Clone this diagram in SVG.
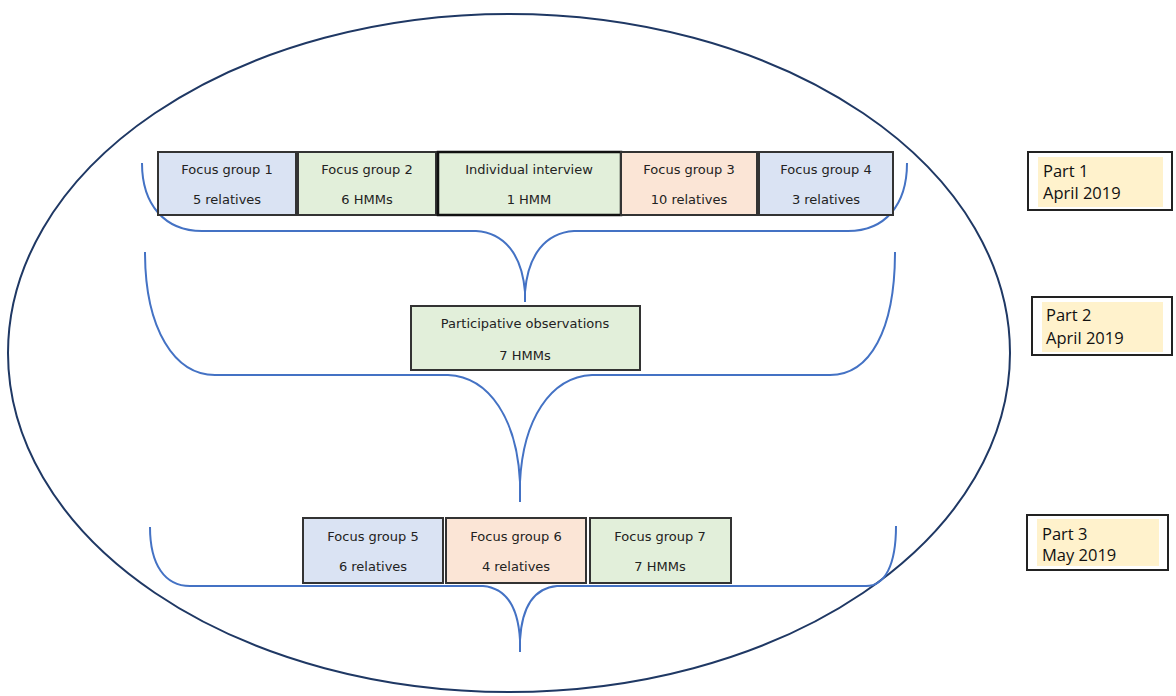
<svg xmlns="http://www.w3.org/2000/svg" width="1176" height="696" viewBox="0 0 1176 696">
<style>
.bx{stroke:#333;stroke-width:2}
.blue{fill:#dae3f3}.green{fill:#e2efda}.peach{fill:#fbe5d6}
.t{font-family:"DejaVu Sans",Verdana,sans-serif;font-size:13px;fill:#222;text-anchor:middle}
.brace{fill:none;stroke:#4472c4;stroke-width:2}
.pb{fill:#fff;stroke:#222;stroke-width:2}
.pf{fill:#fff2cc}
.pt{font-family:"Open Sans","Liberation Sans",sans-serif;font-size:16.5px;fill:#111}
</style>
<rect width="1176" height="696" fill="#fff"/>
<ellipse id="outer" cx="509" cy="353" rx="501" ry="339" fill="none" stroke="#1f3864" stroke-width="2"/>
<g id="connectors">
<path class="brace" d="M142,163 C142,205 165,231 202,231 L476,231 C505,233 522,255 525,292 C528,255 545,233 574,231 L848,231 C885,231 907,205 907,163"/>
<path class="brace" d="M525,288 L525,302"/>
<path class="brace" d="M145,252 C145,330 175,375 215,375 L448,375 C490,377 517,420 520,482 C523,420 550,377 592,375 L830,375 C870,375 895,330 895,252"/>
<path class="brace" d="M520,478 L520,502"/>
<path class="brace" d="M150,527 C150,565 165,586 190,586 L483,586 C505,588 518,605 520,640 C522,605 535,588 557,586 L866,586 C885,586 896,565 896,526"/>
<path class="brace" d="M520,635 L520,652"/>
</g>
<g id="fg1"><rect class="bx blue" x="158" y="152" width="138" height="63"/><text class="t" x="227" y="174">Focus group 1</text><text class="t" x="227" y="204">5 relatives</text></g>
<g id="fg2"><rect class="bx green" x="298" y="152" width="138" height="63"/><text class="t" x="367" y="174">Focus group 2</text><text class="t" x="367" y="204">6 HMMs</text></g>
<g id="ii"><rect class="bx green" x="438" y="152" width="183" height="63" style="stroke:#111;stroke-width:2.5"/><text class="t" x="529" y="174">Individual interview</text><text class="t" x="529" y="204">1 HMM</text></g>
<g id="fg3"><rect class="bx peach" x="621" y="152" width="136" height="63"/><text class="t" x="689" y="174">Focus group 3</text><text class="t" x="689" y="204">10 relatives</text></g>
<g id="fg4"><rect class="bx blue" x="759" y="152" width="134" height="63"/><text class="t" x="826" y="174">Focus group 4</text><text class="t" x="826" y="204">3 relatives</text></g>
<g id="po"><rect class="bx green" x="411" y="306" width="229" height="64"/><text class="t" x="525" y="328">Participative observations</text><text class="t" x="525" y="360">7 HMMs</text></g>
<g id="fg5"><rect class="bx blue" x="303" y="518" width="140" height="65"/><text class="t" x="373" y="541">Focus group 5</text><text class="t" x="373" y="571">6 relatives</text></g>
<g id="fg6"><rect class="bx peach" x="446" y="518" width="140" height="65"/><text class="t" x="516" y="541">Focus group 6</text><text class="t" x="516" y="571">4 relatives</text></g>
<g id="fg7"><rect class="bx green" x="590" y="518" width="141" height="65"/><text class="t" x="660" y="541">Focus group 7</text><text class="t" x="660" y="571">7 HMMs</text></g>
<g id="part1"><rect class="pb" x="1028" y="152" width="144" height="58"/><rect class="pf" x="1038" y="157" width="125" height="50"/><text class="pt" x="1043" y="177">Part 1</text><text class="pt" x="1043" y="199">April 2019</text></g>
<g id="part2"><rect class="pb" x="1032" y="297" width="140" height="58"/><rect class="pf" x="1042" y="302" width="121" height="50"/><text class="pt" x="1046" y="321">Part 2</text><text class="pt" x="1046" y="344">April 2019</text></g>
<g id="part3"><rect class="pb" x="1027" y="515" width="141" height="55"/><rect class="pf" x="1037" y="519" width="122" height="47"/><text class="pt" x="1042" y="540">Part 3</text><text class="pt" x="1042" y="561">May 2019</text></g>
</svg>
